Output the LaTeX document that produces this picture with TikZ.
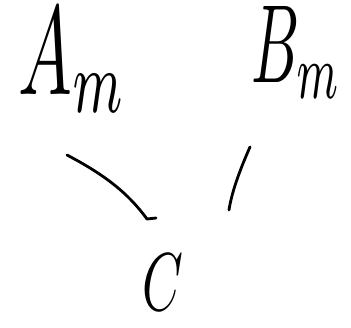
\documentclass[tikz,border=0pt]{standalone}
\usetikzlibrary{calc}
\tikzset{
  lbl/.style={xscale=6,yscale=10,inner sep=0pt},
  stroke/.style={line width=2.4pt,line cap=round,line join=round}
}
\begin{document}
\begin{tikzpicture}[x=0.03cm,y=-0.03cm]
  \useasboundingbox (0,0) rectangle (351,328);
  % labels
  \node[lbl,xscale=1.02,yscale=1.08,anchor=base west] (am) at (17,94) {$A_m$};
  \node[lbl,xscale=0.85,yscale=0.95,anchor=base west] (bm) at (250,82) {$B_m$};
  \node[lbl,xscale=0.74,yscale=0.7,anchor=base] (c) at (163,310) {$C$};
  % stroke ends
  \coordinate (ac1) at (67,155);
  \coordinate (ac2) at (147,219);
  \coordinate (bc1) at (250,147);
  \coordinate (bc2) at (229,210);
  \draw[stroke] (ac1) .. controls (105,175) and (128,193) .. (ac2) -- ++(9,-1);
  \draw[stroke] (bc1) .. controls (242,165) and (232,190) .. (bc2);
\end{tikzpicture}
\end{document}
